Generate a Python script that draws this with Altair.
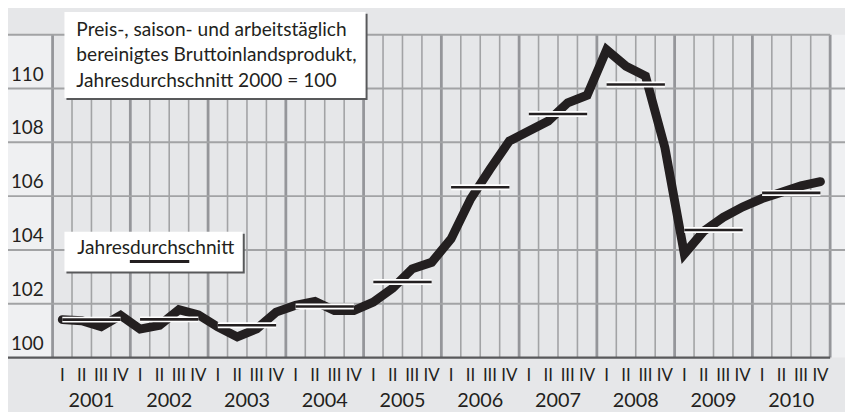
import altair as alt
import pandas as pd

# ---- data ----
years = ["2001", "2002", "2003", "2004", "2005", "2006", "2007", "2008", "2009", "2010"]
quarter_names = ["I", "II", "III", "IV"]
quarterly = [
    101.41, 101.37, 101.15, 101.57,
    101.06, 101.20, 101.78, 101.59,
    101.14, 100.77, 101.07, 101.69,
    101.94, 102.09, 101.75, 101.75,
    102.06, 102.58, 103.30, 103.54,
    104.41, 105.89, 107.00, 108.05,
    108.42, 108.79, 109.47, 109.75,
    111.44, 110.83, 110.46, 107.80,
    103.85, 104.70, 105.21, 105.60,
    105.91, 106.14, 106.38, 106.54,
]
annual = [101.41, 101.42, 101.20, 101.90, 102.81, 106.33, 109.05, 110.15, 104.74, 106.12]
y_ticks = [100, 102, 104, 106, 108, 110]
grid_levels = [102, 104, 106, 108, 110]
title_lines = [
    "Preis-, saison- und arbeitstäglich",
    "bereinigtes Bruttoinlandsprodukt,",
    "Jahresdurchschnitt 2000 = 100",
]
legend_label = "Jahresdurchschnitt"

FONT = "Lato"
W, H = 785, 326

nq = len(quarterly)
q_df = pd.DataFrame({
    "pos": [i + 0.5 for i in range(nq)],
    "value": quarterly,
    "qlab": [quarter_names[i % 4] for i in range(nq)],
})
a_df = pd.DataFrame({
    "start": [k * 4 + 0.5 for k in range(len(years))],
    "end": [k * 4 + 3.5 for k in range(len(years))],
    "mid": [k * 4 + 2 for k in range(len(years))],
    "value": annual,
    "year": years,
})
thin_df = pd.DataFrame({"b": [i for i in range(1, nq) if i % 4 != 0]})
thick_df = pd.DataFrame({"b": [i for i in range(0, nq + 1, 4)]})
grid_df = pd.DataFrame({"v": grid_levels})
tick_df = pd.DataFrame({"v": y_ticks})
title_df = pd.DataFrame({"t": title_lines, "yy": [1, 27, 53]})
one = pd.DataFrame({"a": [0]})

xs = alt.Scale(domain=[0, nq], nice=False, zero=False)
ys = alt.Scale(domain=[100, 112], nice=False, zero=False)

LIGHT = "#eff0f2"
GRID = "#a2a3a5"
INK = "#231f20"

left_strip = alt.Chart(one).mark_rect(color=LIGHT).encode(
    x=alt.value(-45), x2=alt.value(0), y=alt.value(0), y2=alt.value(H))
right_strip = alt.Chart(one).mark_rect(color=LIGHT).encode(
    x=alt.value(W), x2=alt.value(W + 20), y=alt.value(0), y2=alt.value(H))

vthin = alt.Chart(thin_df).mark_rule(color=GRID, strokeWidth=1.6).encode(
    x=alt.X("b:Q", scale=xs, axis=None), y=alt.value(0), y2=alt.value(H))
vthick = alt.Chart(thick_df).mark_rule(color="#95969a", strokeWidth=2.8).encode(
    x=alt.X("b:Q", scale=xs, axis=None), y=alt.value(0), y2=alt.value(H))

hgrid = alt.Chart(grid_df).mark_rule(color=GRID, strokeWidth=2).encode(
    y=alt.Y("v:Q", scale=ys, axis=None), x=alt.value(-45), x2=alt.value(W + 20))
top_line = alt.Chart(one).mark_rule(color=GRID, strokeWidth=2).encode(
    y=alt.value(0), x=alt.value(-45), x2=alt.value(W))
bottom_line = alt.Chart(one).mark_rule(color="#58595b", strokeWidth=2.2).encode(
    y=alt.value(H), x=alt.value(-45), x2=alt.value(W))

line = alt.Chart(q_df).mark_line(
    color=INK, strokeWidth=9, strokeCap="round", strokeJoin="miter"
).encode(
    x=alt.X("pos:Q", scale=xs, axis=None),
    y=alt.Y("value:Q", scale=ys, axis=None),
)

bar_white = alt.Chart(a_df).mark_rule(color="white", strokeWidth=6).encode(
    x=alt.X("start:Q", scale=xs, axis=None), x2="end:Q",
    y=alt.Y("value:Q", scale=ys, axis=None))
bar_black = alt.Chart(a_df).mark_rule(color=INK, strokeWidth=2.6).encode(
    x=alt.X("start:Q", scale=xs, axis=None), x2="end:Q",
    y=alt.Y("value:Q", scale=ys, axis=None))

ylab = alt.Chart(tick_df).mark_text(
    align="right", baseline="middle", dy=-14, fontSize=19, font=FONT, color=INK
).encode(y=alt.Y("v:Q", scale=ys, axis=None), x=alt.value(-9), text=alt.Text("v:Q"))

qlab = alt.Chart(q_df).mark_text(
    align="center", baseline="middle", fontSize=17, font=FONT, color=INK
).encode(x=alt.X("pos:Q", scale=xs, axis=None), y=alt.value(345), text="qlab:N")

ylab_years = alt.Chart(a_df).mark_text(
    align="center", baseline="middle", fontSize=20, font=FONT, color=INK
).encode(x=alt.X("mid:Q", scale=xs, axis=None), y=alt.value(370), text="year:N")

SH = "#58595b"
box1_sh = alt.Chart(one).mark_rect(color=SH).encode(
    x=alt.value(14), x2=alt.value(318), y=alt.value(-21), y2=alt.value(66))
box1 = alt.Chart(one).mark_rect(color="white").encode(
    x=alt.value(12), x2=alt.value(316), y=alt.value(-23), y2=alt.value(64))
box1_text = alt.Chart(title_df).mark_text(
    align="left", baseline="alphabetic", fontSize=19.3, font=FONT, color=INK
).encode(x=alt.value(24), y=alt.Y("yy:Q", scale=alt.Scale(domain=[0, H], range=[0, H]), axis=None), text="t:N")

box2_sh = alt.Chart(one).mark_rect(color=SH).encode(
    x=alt.value(14), x2=alt.value(194), y=alt.value(201), y2=alt.value(241))
box2 = alt.Chart(one).mark_rect(color="white").encode(
    x=alt.value(12), x2=alt.value(192), y=alt.value(199), y2=alt.value(239))
box2_text = alt.Chart(pd.DataFrame({"t": [legend_label]})).mark_text(
    align="left", baseline="alphabetic", fontSize=19.3, font=FONT, color=INK
).encode(x=alt.value(25), y=alt.value(221), text="t:N")
box2_line = alt.Chart(one).mark_rule(color=INK, strokeWidth=3).encode(
    x=alt.value(78), x2=alt.value(138), y=alt.value(229))

chart = alt.layer(
    left_strip, right_strip, vthin, vthick, hgrid, top_line, bottom_line,
    line, bar_white, bar_black, ylab, qlab, ylab_years,
    box1_sh, box1, box1_text, box2_sh, box2, box2_text, box2_line,
).resolve_scale(y="independent").properties(
    width=W, height=H,
    padding={"left": 45, "top": 25, "right": 15, "bottom": 53},
    autosize=alt.AutoSizeParams(type="none"),
    background="#e6e7e9",
).configure_view(stroke=None)

chart.save("out.html", embed_options={"renderer": "svg", "actions": False})
